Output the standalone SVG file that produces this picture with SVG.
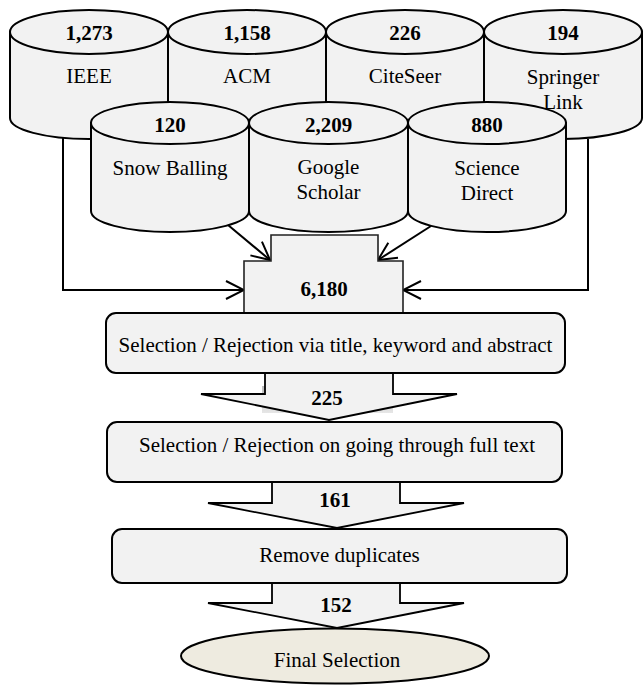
<svg xmlns="http://www.w3.org/2000/svg" width="644" height="685" viewBox="0 0 644 685" font-family="'Liberation Serif', 'Times New Roman', 'DejaVu Serif', serif">
<defs>
<style>
.cyl{fill:#f2f2f2;stroke:#000;stroke-width:2}
.box{fill:#f2f2f2;stroke:#000;stroke-width:2}
.step{fill:#f2f2f2;stroke:#222;stroke-width:1.6}
.barrow{fill:#f2f2f2;stroke:#000;stroke-width:1.8;stroke-linejoin:miter}
.con{fill:none;stroke:#000;stroke-width:2}
text{font-family:'Liberation Serif','Times New Roman','DejaVu Serif',serif}
.t{font-size:21px;fill:#000;text-anchor:middle}
.n{font-size:21px;font-weight:bold;fill:#000;text-anchor:middle}
</style>
<marker id="open" viewBox="0 0 20 20" refX="19" refY="10" markerWidth="20" markerHeight="20" markerUnits="userSpaceOnUse" orient="auto">
<path d="M1,1 L19,10 L1,19" fill="none" stroke="#000" stroke-width="2"/>
</marker>
<linearGradient id="shd" x1="0" y1="0" x2="0" y2="1">
<stop offset="0" stop-color="#bdbdbd"/>
<stop offset="1" stop-color="#e6e6e6"/>
</linearGradient>
</defs>

<g id="ieee">
<path class="cyl" d="M10,32 L10,118 A79,21 0 0 0 168,118 L168,32 Z"/>
<ellipse class="cyl" cx="89" cy="32" rx="79" ry="22"/>
<text class="n" x="89" y="40">1,273</text>
<text class="t" x="89" y="83">IEEE</text>
</g>
<g id="acm">
<path class="cyl" d="M168,32 L168,118 A79,21 0 0 0 326,118 L326,32 Z"/>
<ellipse class="cyl" cx="247" cy="32" rx="79" ry="22"/>
<text class="n" x="247" y="40">1,158</text>
<text class="t" x="247" y="83">ACM</text>
</g>
<g id="citeseer">
<path class="cyl" d="M326,32 L326,118 A79,21 0 0 0 484,118 L484,32 Z"/>
<ellipse class="cyl" cx="405" cy="32" rx="79" ry="22"/>
<text class="n" x="405" y="40">226</text>
<text class="t" x="405" y="83">CiteSeer</text>
</g>
<g id="springer">
<path class="cyl" d="M484,32 L484,118 A79,21 0 0 0 642,118 L642,32 Z"/>
<ellipse class="cyl" cx="563" cy="32" rx="79" ry="22"/>
<text class="n" x="563" y="40">194</text>
<text class="t" x="563" y="84">Springer</text>
<text class="t" x="563" y="109">Link</text>
</g>

<g id="snowballing">
<path class="cyl" d="M91,123 L91,211 A79,21 0 0 0 249,211 L249,123 Z"/>
<ellipse class="cyl" cx="170" cy="123" rx="79" ry="21"/>
<text class="n" x="170" y="132">120</text>
<text class="t" x="170" y="175">Snow Balling</text>
</g>
<g id="googlescholar">
<path class="cyl" d="M249,123 L249,211 A79.5,21 0 0 0 408,211 L408,123 Z"/>
<ellipse class="cyl" cx="328.5" cy="123" rx="79.5" ry="21"/>
<text class="n" x="328.5" y="132">2,209</text>
<text class="t" x="328.5" y="174">Google</text>
<text class="t" x="328.5" y="199">Scholar</text>
</g>
<g id="sciencedirect">
<path class="cyl" d="M408,123 L408,211 A79,21 0 0 0 566,211 L566,123 Z"/>
<ellipse class="cyl" cx="487" cy="123" rx="79" ry="21"/>
<text class="n" x="487" y="132">880</text>
<text class="t" x="487" y="175">Science</text>
<text class="t" x="487" y="200">Direct</text>
</g>

<g id="connectors">
<polyline class="con" points="63,138 63,290 244,290" marker-end="url(#open)"/>
<polyline class="con" points="588,139 588,290 403,290" marker-end="url(#open)"/>
<line class="con" x1="228" y1="225" x2="270" y2="260" marker-end="url(#open)"/>
<line class="con" x1="431" y1="226" x2="378" y2="260" marker-end="url(#open)"/>
</g>

<g id="total">
<polygon class="step" points="271,235 378,235 378,261 403,261 403,313 244,313 244,261 271,261"/>
<text class="n" x="324" y="296">6,180</text>
</g>

<g id="arrow225">
<rect x="262" y="386" width="131" height="27" fill="url(#shd)"/>
<polygon class="barrow" points="265,366 393,366 393,394 457,394 329,420 201,394 265,394"/>
<text class="n" x="327" y="405">225</text>
</g>

<g id="screen1">
<rect class="box" x="106" y="313" width="459" height="60" rx="10" ry="10"/>
<text class="t" x="335.5" y="352">Selection / Rejection via title, keyword and abstract</text>
</g>

<g id="arrow161">
<polygon class="barrow" points="272,476 400,476 400,503 464,503 337,528 208,503 272,503"/>
<text class="n" x="335" y="507">161</text>
</g>

<g id="screen2">
<rect class="box" x="107" y="422" width="455" height="60" rx="10" ry="10"/>
<text class="t" x="337" y="452">Selection / Rejection on going through full text</text>
</g>

<g id="arrow152">
<polygon class="barrow" points="272,578 400,578 400,603 464,603 337,628 208,603 272,603"/>
<text class="n" x="336" y="612">152</text>
</g>

<g id="dedup">
<rect class="box" x="112" y="529" width="455" height="54" rx="10" ry="10"/>
<text class="t" x="339.5" y="562">Remove duplicates</text>
</g>

<g id="final">
<ellipse cx="335" cy="656" rx="154" ry="27.5" fill="#eeebe0" stroke="#000" stroke-width="2"/>
<text class="t" x="337" y="667">Final Selection</text>
</g>
</svg>
